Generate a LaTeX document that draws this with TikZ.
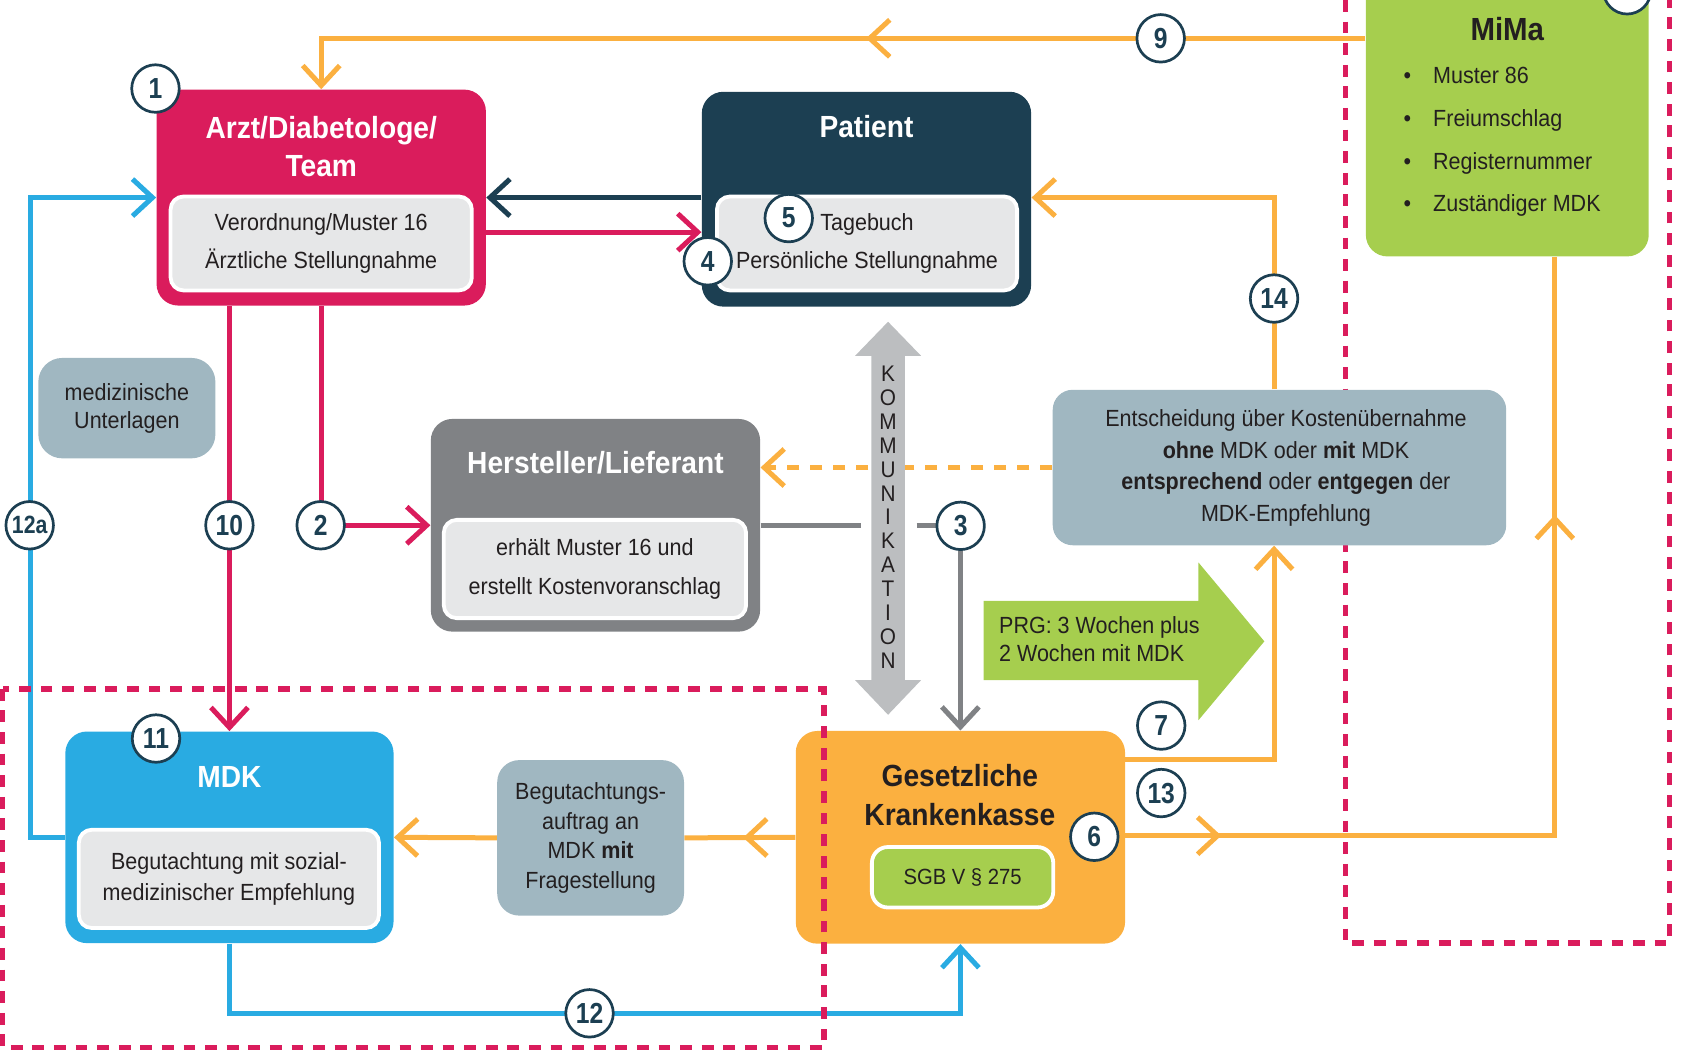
\documentclass[tikz,border=0pt]{standalone}
\usepackage{fontspec}
\setmainfont{Liberation Sans}[FakeStretch=0.92]
\newfontfamily\numfont{Liberation Sans}[FakeStretch=0.85]
\usetikzlibrary{arrows.meta,decorations.markings}
\definecolor{cmag}{HTML}{DA1C5C}
\definecolor{cnavy}{HTML}{1C3F52}
\definecolor{cgrey}{HTML}{808285}
\definecolor{cinner}{HTML}{E6E7E8}
\definecolor{cgreen}{HTML}{A6CE4E}
\definecolor{cblue}{HTML}{29ABE2}
\definecolor{corange}{HTML}{FBB040}
\definecolor{cslate}{HTML}{A0B7C1}
\definecolor{ckomm}{HTML}{BCBEC0}
\definecolor{ctext}{HTML}{231F20}
\newcommand\setfs[2]{\fontsize{#1}{#2}\selectfont}
\pgfdeclarelayer{bg}
\pgfsetlayers{bg,main}
\begin{document}
\begin{tikzpicture}[x=0.54pt,y=-0.54pt,
  >={Straight Barb[length=10pt,width=18.5pt]},
  sz/.style 2 args={minimum width=#1*0.54pt, minimum height=#2*0.54pt},
  mainbox/.style={rectangle, rounded corners=10.8pt, inner sep=0pt},
  innerbox/.style={rectangle, rounded corners=6.5pt, draw=white, line width=1.9pt, fill=cinner, inner sep=0pt, align=center, text=ctext},
  titletxt/.style={font=\bfseries\setfs{15.3}{18.9}, text=white, align=center, inner sep=0pt},
  slatebox/.style={rectangle, fill=cslate, inner sep=0pt, align=center, text=ctext},
  num/.style={circle, draw=cnavy, line width=1.35pt, fill=white, minimum size=44*0.54pt, inner sep=0pt, font=\numfont\bfseries\setfs{14.5}{14.5}, text=cnavy},
  conn/.style={line width=2.5pt},
  oline/.style={conn, draw=corange},
  mline/.style={conn, draw=cmag},
  bline/.style={conn, draw=cblue},
  nline/.style={conn, draw=cnavy},
  gline/.style={conn, draw=cgrey},
  redbox/.style={draw=cmag, line width=2.7pt, dash pattern=on 5.9pt off 4.9pt},
  midmark/.style={postaction={decorate}, decoration={markings, mark=at position #1 with {\arrow{>}}}},
]
\useasboundingbox (0,0) rectangle (1568,972);
\clip (0,0) rectangle (1568,972);

% ---- boxes
\node[mainbox, fill=cmag, sz={305}{200}] (arzt) at (297.5,183) {};
\node[titletxt] (arztt) at (297.5,135.5) {Arzt/Diabetologe/\\Team};
\node[innerbox, sz={279}{87}, font=\setfs{11.7}{18.9}] (arzti) at (297.5,225.5) {Verordnung/Muster 16\\Ärztliche Stellungnahme};

\node[mainbox, fill=cnavy, sz={305}{199}] (pat) at (802.5,184.5) {};
\node[titletxt] (patt) at (802.5,117.5) {Patient};
\node[innerbox, sz={278}{87}, font=\setfs{11.7}{18.9}] (pati) at (803,225.5) {Tagebuch\\Persönliche Stellungnahme};

\node[mainbox, fill=cgrey, sz={305}{197}] (her) at (551.5,486.5) {};
\node[titletxt] (hert) at (551.5,429) {Hersteller/Lieferant};
\node[innerbox, sz={280}{91}, font=\setfs{11.7}{19.2}] (heri) at (551,527) {erhält Muster 16 und\\erstellt Kostenvoranschlag};

\node[mainbox, fill=cblue, sz={304}{196}] (mdk) at (212.5,775.5) {};
\node[titletxt] (mdkt) at (212.5,720) {MDK};
\node[innerbox, sz={278}{91}, font=\setfs{11.7}{15.1}] (mdki) at (212,814) {Begutachtung mit sozial-\\medizinischer Empfehlung};

\node[mainbox, fill=corange, sz={305}{197}] (gkv) at (889.5,775.5) {};
\node[titletxt, text=ctext, font=\bfseries\setfs{15.3}{19.4}] (gkvt) at (889,736) {Gesetzliche\\Krankenkasse};
\node[rectangle, rounded corners=8pt, draw=white, line width=1.9pt, fill=cgreen, sz={168}{56}, inner sep=0pt, font=\setfs{11}{13}, text=ctext] (sgb) at (891.5,812.5) {SGB V § 275};

\node[mainbox, fill=cgreen, sz={262}{300}] (mima) at (1396,87.5) {};
\node[font=\bfseries\setfs{16}{18}, text=ctext, inner sep=0pt] (mimat) at (1396,27) {MiMa};
\node[anchor=west, align=left, inner sep=0pt, font=\setfs{11.7}{21.4}, text=ctext] (mimal) at (1299.5,131.5)
  {\makebox[14.85pt][l]{•}Muster 86\\\makebox[14.85pt][l]{•}Freiumschlag\\\makebox[14.85pt][l]{•}Registernummer\\\makebox[14.85pt][l]{•}Zuständiger MDK};

\node[slatebox, rounded corners=12pt, sz={164}{93}, font=\setfs{11.7}{14}] (med) at (117.5,378) {medizinische\\Unterlagen};
\node[slatebox, rounded corners=11pt, sz={173}{144}, font=\setfs{11.7}{14.7}] (beg) at (547,776) {Begutachtungs-\\auftrag an\\MDK \textbf{mit}\\Fragestellung};

% ---- KOMMUNIKATION double arrow
\fill[ckomm] (807,329.5) -- (792,329.5) -- (822.5,298) -- (853,329.5) -- (838,329.5) -- (838,630) -- (853,630) -- (822.5,662) -- (792,630) -- (807,630) -- cycle;
\node[align=center, inner sep=0pt, font=\setfs{11.3}{11.93}, text=ctext] (komm) at (822.5,479) {K\\O\\M\\M\\U\\N\\I\\K\\A\\T\\I\\O\\N};

% ---- PRG arrow
\fill[cgreen] (911,556.5) -- (1110,556.5) -- (1110,521) -- (1171,594) -- (1110,667) -- (1110,630) -- (911,630) -- cycle;
\node[anchor=west, align=left, inner sep=0pt, font=\setfs{11.7}{14}, text=ctext] (prg) at (925,592) {PRG: 3 Wochen plus\\2 Wochen mit MDK};

% ---- dashed frames
\draw[redbox] (2.5,638) rectangle (763,970.5);
\draw[redbox] (1246,-20) rectangle (1546,873.5);

% ---- decision box (above the dashed frame)
\node[slatebox, rounded corners=10pt, sz={420}{144}] (ent) at (1185,433) {};
\node[align=center, inner sep=0pt, font=\setfs{11.7}{15.8}, text=ctext] (entt) at (1191,433.5) {Entscheidung über Kostenübernahme\\\textbf{ohne} MDK oder \textbf{mit} MDK\\\textbf{entsprechend} oder \textbf{entgegen} der\\MDK-Empfehlung};

% ---- connectors
\begin{pgfonlayer}{bg}
\coordinate (k9) at (297.5,35.5);
\draw[oline,->,midmark=0.456] (k9 -| mima.west) -- (k9) -- (arzt.north);
\coordinate (k12a) at (28,183);
\draw[bline,->] (mdk.west) -| (k12a) -- (arzt.west);
\draw[nline,->] (pat.west |- arzt.east) -- (arzt.east);
\coordinate (k4) at (550,215);
\draw[mline,->] (k4 -| arzt.east) -- (k4 -| pat.west);
\draw[mline,->] (mdk.north |- arzt.south) -- (mdk.north);
\draw[mline,->] (arzt.south) |- (her.west);
\coordinate (k3a) at (797,487);
\coordinate (k3b) at (849,487);
\draw[gline] (her.east |- k3a) -- (k3a);
\draw[gline,->] (k3b) -| (gkv.north);
\draw[oline,dash pattern=on 6pt off 5.5pt,->] (ent.west) -- (ent.west -| her.east);
\coordinate (k14) at (1180,183);
\draw[oline,->] (k14 |- ent.north) -- (k14) -- (k14 -| pat.east);
\coordinate (k7) at (1180,703);
\draw[oline,->] (k7 -| gkv.east) -- (k7) -- (k7 |- ent.south);
\coordinate (k13) at (1440,774);
\draw[oline, postaction={decorate}, decoration={markings, mark=at position 0.095 with {\arrow{>}}, mark=at position 0.744 with {\arrow{>}}}] (k13 -| gkv.east) -- (k13) -- (k13 |- mima.south);
\draw[oline,midmark=0.47] (gkv.west) -- (beg.east);
\draw[oline,->] (beg.west) -- (mdk.east);
\coordinate (k12) at (546,938.5);
\draw[bline,->] (mdk.south) |- (k12) -| (gkv.south);
\end{pgfonlayer}

% ---- numbered circles
\node[num] (n1) at (144,82) {1};
\node[num] (n2) at (297,486.5) {2};
\node[num] (n3) at (889.7,487) {3};
\node[num] (n4) at (655.5,242) {4};
\node[num] (n5) at (730.5,202) {5};
\node[num] (n6) at (1013.5,775) {6};
\node[num] (n7) at (1075.5,672) {7};
\node[num] (n9) at (1075,35.5) {9};
\node[num] (n10) at (212.5,486.5) {10};
\node[num] (n11) at (144.5,684) {11};
\node[num] (n12) at (546,938.5) {12};
\node[num, font=\numfont\bfseries\setfs{12.5}{12.5}] (n12a) at (27.5,486.5) {12a};
\node[num] (n13) at (1075.5,734.5) {13};
\node[num] (n14) at (1180,276.5) {14};
\node[num] (n8) at (1507,-9) {};
\end{tikzpicture}
\end{document}
